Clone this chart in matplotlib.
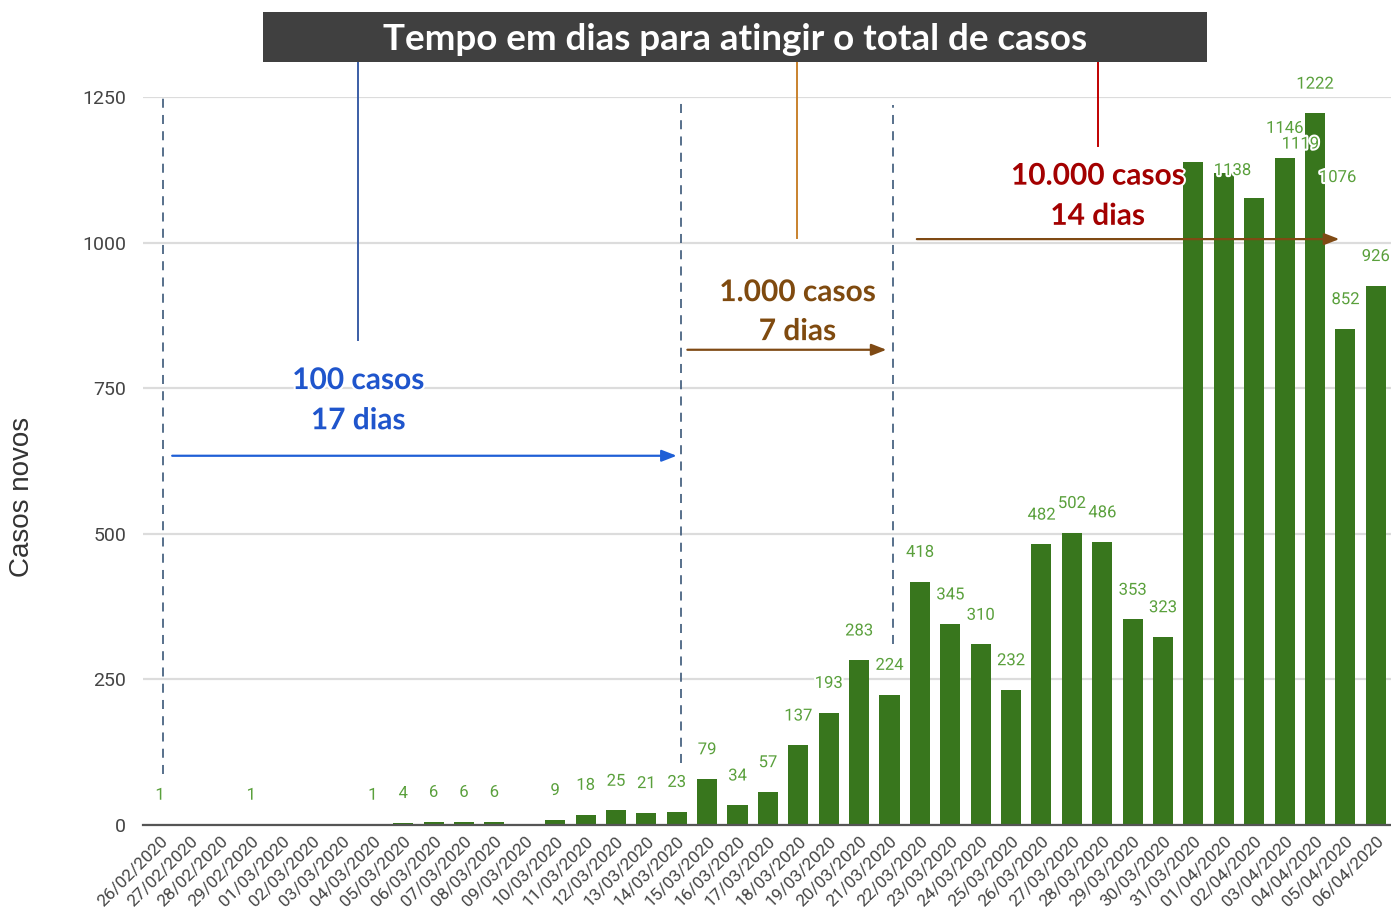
import matplotlib
matplotlib.use("Agg")
import matplotlib.pyplot as plt
import matplotlib.patheffects as pe
from matplotlib.patches import Rectangle

DATES = ["26/02/2020", "27/02/2020", "28/02/2020", "29/02/2020", "01/03/2020",
         "02/03/2020", "03/03/2020", "04/03/2020", "05/03/2020", "06/03/2020",
         "07/03/2020", "08/03/2020", "09/03/2020", "10/03/2020", "11/03/2020",
         "12/03/2020", "13/03/2020", "14/03/2020", "15/03/2020", "16/03/2020",
         "17/03/2020", "18/03/2020", "19/03/2020", "20/03/2020", "21/03/2020",
         "22/03/2020", "23/03/2020", "24/03/2020", "25/03/2020", "26/03/2020",
         "27/03/2020", "28/03/2020", "29/03/2020", "30/03/2020", "31/03/2020",
         "01/04/2020", "02/04/2020", "03/04/2020", "04/04/2020", "05/04/2020",
         "06/04/2020"]
NOVOS = [1, 0, 0, 1, 0, 0, 0, 1, 4, 6, 6, 6, 0, 9, 18, 25, 21, 23, 79, 34, 57,
         137, 193, 283, 224, 418, 345, 310, 232, 482, 502, 486, 353, 323, 1138,
         1119, 1076, 1146, 1222, 852, 926]
YTICKS = [0, 250, 500, 750, 1000, 1250]

# milestone annotations: (label, start day, end day, level of arrow)
MARCOS = [("100 casos\n17 dias", 0, 17, 634),
          ("1.000 casos\n7 dias", 17, 24, 816),
          ("10.000 casos\n14 dias", 24, 38, 1006)]

GREEN = "#38761d"
LABEL_GREEN = "#5aa03c"

fig = plt.figure(figsize=(13.91, 9.13), dpi=100)
ax = fig.add_axes([143 / 1391, 1 - 825 / 913, 1 - 143 / 1391, (825 - 97) / 913])

x = list(range(len(DATES)))
ax.bar(x, NOVOS, width=0.66, color=GREEN, zorder=3)

# value labels (google-charts style: a few got pushed aside by collisions)
nudge = {34: (28, -27), 35: (55, 0), 36: (60, -6)}
for i, v in enumerate(NOVOS):
    if v == 0:
        continue
    dx, dy = nudge.get(i, (0, 0))
    ax.annotate(str(v), (i, v), xytext=(dx, 21 + dy), textcoords="offset points",
                ha="center", va="center", fontsize=12, family="Roboto",
                color=LABEL_GREEN, zorder=6, annotation_clip=False,
                path_effects=[pe.withStroke(linewidth=3, foreground="white")])

ax.set_xlim(-0.56, 40.5)
ax.set_ylim(0, 1250)
ax.set_yticks(YTICKS)
ax.set_yticklabels([str(t) for t in YTICKS], fontsize=14, family="Roboto",
                   color="#444444")
ax.set_xticks(x)
ax.set_xticklabels(DATES, rotation=45, ha="right", rotation_mode="anchor",
                   fontsize=12.5, family="Roboto", color="#444444")
ax.tick_params(axis="both", length=0)
ax.tick_params(axis="y", pad=12)
ax.tick_params(axis="x", pad=6)
ax.grid(axis="y", color="#dcdcdc", lw=1.6, zorder=0)
for s in ["top", "right", "left"]:
    ax.spines[s].set_visible(False)
ax.spines["bottom"].set_color("#555555")
ax.spines["bottom"].set_linewidth(1.6)
ax.spines["bottom"].set_zorder(4)
fig.text(22 / 1391, 1 - 497 / 913, "Casos novos", rotation=90, ha="center",
         va="center", fontsize=20, family="Liberation Sans", color="#333333")

# dashed guides marking each milestone day
ax.plot([0.1, 0.1], [88, 1250], ls=(0, (5, 4)), color="#4a6482", lw=1.3,
        zorder=5, clip_on=False)
ax.plot([17.15, 17.15], [106, 1250], ls=(0, (5, 4)), color="#4a6482", lw=1.3,
        zorder=5, clip_on=False)
ax.plot([24.13, 24.13], [310, 1237], ls=(0, (5, 4)), color="#4a6482", lw=1.3,
        zorder=5, clip_on=False)

# arrows
arrow_cols = ["#1f5fd6", "#7f4a14", "#7f4a14"]
arrow_x = [(0.4, 17.0), (17.35, 23.9), (24.9, 38.8)]
for (lab, d0, d1, lvl), col, (xa, xb) in zip(MARCOS, arrow_cols, arrow_x):
    ax.annotate("", xy=(xb, lvl), xytext=(xa, lvl),
                arrowprops=dict(arrowstyle="-|>,head_length=0.9,head_width=0.35",
                                color=col, lw=1.6, shrinkA=0, shrinkB=0),
                zorder=7)

# text + leader lines from the title box
text_cols = ["#1f55cc", "#7f4a0f", "#a30000"]
line_cols = ["#3b5ea6", "#c9822e", "#c00000"]
text_x = [6.52, 20.97, 30.85]
text_y = [(764, 695), (915, 848), (1115, 1046)]
line_bottom = [833, 1008, 1166]
for (lab, d0, d1, lvl), tc, lc, tx, (y1, y2), lb in zip(
        MARCOS, text_cols, line_cols, text_x, text_y, line_bottom):
    l1, l2 = lab.split("\n")
    for t, yy in ((l1, y1), (l2, y2)):
        ax.text(tx, yy, t, ha="center", va="center", fontsize=21.5, family="Lato",
                fontweight="bold", color=tc, zorder=8,
                path_effects=[pe.withStroke(linewidth=3, foreground="white")])
    ax.plot([tx, tx], [lb, 1310], color=lc, lw=1.4, zorder=5, clip_on=False)

# title box
fig.patches.append(Rectangle((263 / 1391, 1 - 62 / 913), (1207 - 263) / 1391,
                             50 / 913, transform=fig.transFigure,
                             facecolor="#404040", edgecolor="none", zorder=10))
fig.text(735 / 1391, 1 - 39 / 913, "Tempo em dias para atingir o total de casos",
         ha="center", va="center", color="white", fontsize=26.5, family="Lato",
         fontweight="bold", zorder=11)

fig.savefig("out.png", dpi=100)
